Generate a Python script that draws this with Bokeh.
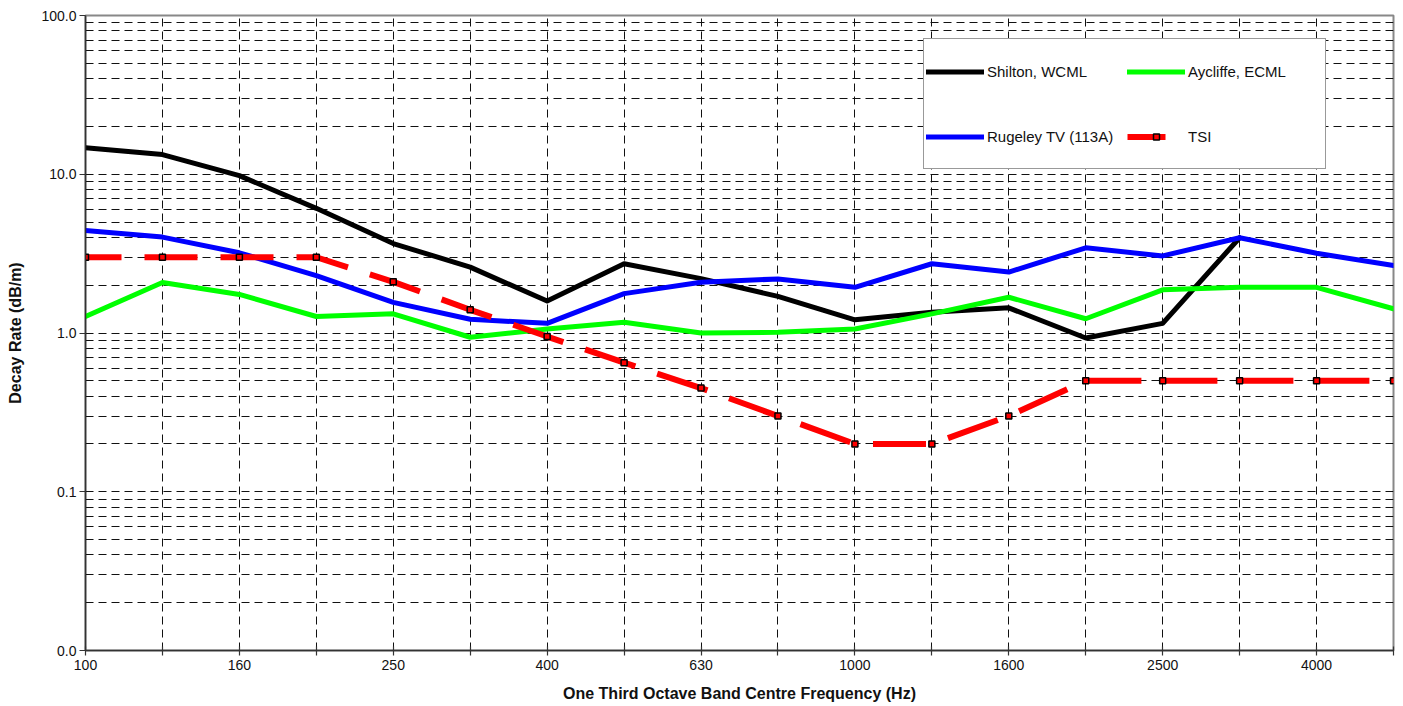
from bokeh.plotting import figure
from bokeh.models import FixedTicker, NumeralTickFormatter, Legend, LegendItem, Range1d
from bokeh.embed import file_html
from bokeh.resources import INLINE

freqs = ["100", "125", "160", "200", "250", "315", "400", "500", "630", "800",
         "1000", "1250", "1600", "2000", "2500", "3150", "4000", "5000"]
shilton = [14.7, 13.3, 9.8, 6.1, 3.66, 2.6, 1.59, 2.73, 2.2, 1.70, 1.21, 1.35, 1.44, 0.93, 1.15, 3.98]
aycliffe = [1.27, 2.08, 1.75, 1.27, 1.32, 0.94, 1.06, 1.17, 1.0, 1.01, 1.06, 1.32, 1.68, 1.23, 1.87, 1.94, 1.94, 1.42]
rugeley = [4.42, 4.02, 3.2, 2.30, 1.56, 1.22, 1.15, 1.77, 2.09, 2.19, 1.94, 2.73, 2.42, 3.44, 3.06, 3.98, 3.18, 2.66]
tsi = [3, 3, 3, 3, 2.1, 1.4, 0.95, 0.65, 0.45, 0.3, 0.2, 0.2, 0.3, 0.5, 0.5, 0.5, 0.5, 0.5]

y_major = [0.01, 0.1, 1, 10, 100]

x_idx = list(range(len(freqs)))
FONT = "Liberation Sans"

p = figure(width=1403, height=706, y_axis_type="log",
           x_range=Range1d(0, len(freqs) - 1), y_range=Range1d(0.01, 100),
           output_backend="svg", toolbar_location=None,
           min_border_left=85, min_border_right=10, min_border_top=15, min_border_bottom=56)

p.outline_line_color = "#888888"
p.outline_line_width = 2
p.background_fill_color = "white"
p.border_fill_color = "white"

# x axis
p.xaxis.ticker = FixedTicker(ticks=x_idx)
p.xaxis.major_label_overrides = {i: (f if i % 2 == 0 else "") for i, f in enumerate(freqs)}
p.xaxis.axis_label = "One Third Octave Band Centre Frequency (Hz)"
p.xaxis.major_tick_in = 4
p.xaxis.major_tick_out = 5
p.xaxis.minor_tick_line_color = None
p.xaxis.major_label_standoff = 4
p.xaxis.axis_label_standoff = 12

# y axis
minor = [k * d for d in [0.01, 0.1, 1, 10] for k in range(2, 10)]
p.yaxis.ticker = FixedTicker(ticks=y_major, minor_ticks=minor)
p.yaxis.formatter = NumeralTickFormatter(format="0.0")
p.yaxis.axis_label = "Decay Rate (dB/m)"
p.yaxis.major_tick_in = 0
p.yaxis.major_tick_out = 6
p.yaxis.minor_tick_line_color = None
p.yaxis.major_label_standoff = 3
p.yaxis.axis_label_standoff = 14

for ax in (p.xaxis, p.yaxis):
    ax.axis_line_color = "#333333"
    ax.axis_line_width = 1.5
    ax.major_tick_line_color = "#333333"
    ax.major_tick_line_width = 1.2
    ax.major_label_text_font = FONT
    ax.major_label_text_font_size = "14px"
    ax.major_label_text_color = "#111111"
    ax.axis_label_text_font = FONT
    ax.axis_label_text_font_size = "16px"
    ax.axis_label_text_font_style = "bold"
    ax.axis_label_text_color = "#111111"

# grids
for g in (p.xgrid, p.ygrid):
    g.grid_line_color = "#111111"
    g.grid_line_dash = "8 5"
    g.grid_line_width = 1
p.ygrid.minor_grid_line_color = "#111111"
p.ygrid.minor_grid_line_dash = "8 5"
p.ygrid.minor_grid_line_width = 1

# series
r_black = p.line(x_idx[:len(shilton)], shilton, line_color="#000000", line_width=5, line_join="round", line_cap="round")
r_green = p.line(x_idx, aycliffe, line_color="#00FF00", line_width=5, line_join="round", line_cap="round")
r_blue = p.line(x_idx, rugeley, line_color="#0000FF", line_width=5, line_join="round", line_cap="round")
r_red = p.line(x_idx, tsi, line_color="#FF0000", line_width=6, line_dash="53 23", line_dash_offset=17)
r_red_m = p.scatter(x_idx, tsi, marker="square", size=6, fill_color="#FF0000", line_color="#000000", line_width=1.5)

# legend key for TSI: one-point line (invisible in the plot) carrying a single-dash style
r_red_key = p.line(x_idx[:1], tsi[:1], line_color="#FF0000", line_width=6, line_dash="38 40")

legend = Legend(items=[
    LegendItem(label="Shilton, WCML", renderers=[r_black]),
    LegendItem(label="Aycliffe, ECML", renderers=[r_green]),
    LegendItem(label="Rugeley TV (113A)", renderers=[r_blue]),
    LegendItem(label="TSI", renderers=[r_red_key, r_red_m]),
], ncols=2, orientation="horizontal", location=(838, 481))
legend.label_text_font = FONT
legend.label_text_font_size = "15px"
legend.label_text_color = "#111111"
legend.label_height = 60
legend.glyph_height = 15
legend.glyph_width = 58
legend.label_standoff = 3
legend.label_width = 135
legend.spacing = 5
legend.padding = 2
legend.margin = 0
legend.border_line_color = "#333333"
legend.border_line_width = 1
legend.background_fill_color = "white"
legend.background_fill_alpha = 1
p.add_layout(legend)

open("out.html", "w").write(file_html(p, INLINE))
